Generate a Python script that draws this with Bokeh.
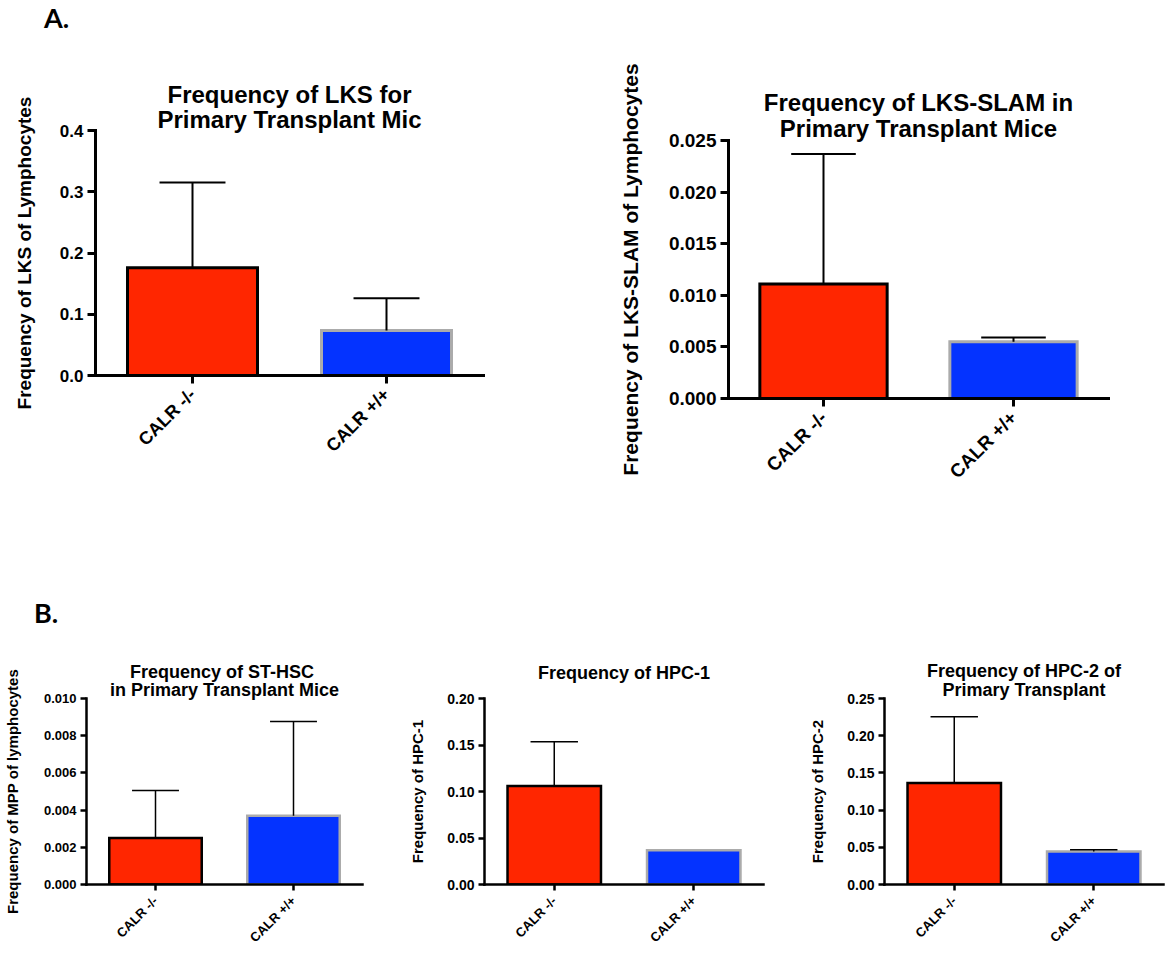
import math
from bokeh.plotting import figure
from bokeh.layouts import column, row
from bokeh.models import (Div, FixedTicker, Title, PrintfTickFormatter,
                          ColumnDataSource, Range1d, Spacer)
from bokeh.embed import file_html
from bokeh.resources import INLINE

# ---------------- data ----------------
groups = ["CALR -/-", "CALR +/+"]
bar_colors = ["#FF2600", "#0433FF"]
edge_colors = ["#000000", "#ABABAB"]

lks_title = ["Frequency of LKS for", "Primary Transplant Mic"]
lks_ylabel = "Frequency of LKS of Lymphocytes"
lks_mean = [0.176, 0.0735]
lks_sem = [0.139, 0.0525]
lks_yticks = [0.0, 0.1, 0.2, 0.3, 0.4]

slam_title = ["Frequency of LKS-SLAM in", "Primary Transplant Mice"]
slam_ylabel = "Frequency of LKS-SLAM of Lymphocytes"
slam_mean = [0.0111, 0.0055]
slam_sem = [0.0126, 0.0004]
slam_yticks = [0.000, 0.005, 0.010, 0.015, 0.020, 0.025]

sthsc_title = ["Frequency of  ST-HSC", "in Primary Transplant Mice"]
sthsc_ylabel = "Frequency of MPP of lymphocytes"
sthsc_mean = [0.0025, 0.0037]
sthsc_sem = [0.00256, 0.00506]
sthsc_yticks = [0.000, 0.002, 0.004, 0.006, 0.008, 0.010]

hpc1_title = ["Frequency of HPC-1"]
hpc1_ylabel = "Frequency of HPC-1"
hpc1_mean = [0.106, 0.0367]
hpc1_sem = [0.0476, 0.0]
hpc1_yticks = [0.00, 0.05, 0.10, 0.15, 0.20]

hpc2_title = ["Frequency of HPC-2 of", "Primary Transplant"]
hpc2_ylabel = "Frequency of HPC-2"
hpc2_mean = [0.1364, 0.0445]
hpc2_sem = [0.089, 0.0023]
hpc2_yticks = [0.00, 0.05, 0.10, 0.15, 0.20, 0.25]

FONT = "Liberation Sans"


def make_panel(title_lines, ylabel, means, sems, yticks, fmt,
               width, height, bl, br, bt, bb,
               title_size, title_standoffs, ylab_size, tick_size, xlab_size,
               ylab_standoff, lw, ew, tick_len):
    ymin, ymax = yticks[0], yticks[-1]
    p = figure(width=width, height=height,
               x_range=Range1d(0.5, 2.5), y_range=Range1d(ymin, ymax),
               output_backend="svg", toolbar_location=None,
               min_border_left=bl, min_border_right=br,
               min_border_top=bt, min_border_bottom=bb)
    p.outline_line_color = None
    p.grid.visible = False
    p.background_fill_color = "white"
    p.border_fill_color = "white"

    # first line is the main title (outermost); further lines sit below it
    p.title.text = title_lines[0]
    p.title.align = "center"
    p.title.text_font = FONT
    p.title.text_font_style = "bold"
    p.title.text_font_size = f"{title_size}px"
    p.title.text_color = "black"
    p.title.standoff = title_standoffs[0]
    for line, off in zip(title_lines[1:], title_standoffs[1:]):
        p.add_layout(Title(text=line, align="center", text_font=FONT,
                           text_font_style="bold", text_font_size=f"{title_size}px",
                           text_color="black", standoff=off), "above")

    xs = [i + 1 for i in range(len(groups))]
    src = ColumnDataSource(dict(x=xs, top=means, fill=bar_colors, edge=edge_colors))
    p.vbar(x="x", top="top", bottom=0, width=0.67, fill_color="fill",
           line_color="edge", line_width=lw, line_join="miter", source=src)

    ex = [xs[i] for i in range(len(xs)) if sems[i] > 0]
    ey0 = [means[i] for i in range(len(xs)) if sems[i] > 0]
    ey1 = [means[i] + sems[i] for i in range(len(xs)) if sems[i] > 0]
    if ex:
        p.segment(x0=ex, y0=ey0, x1=ex, y1=ey1, line_color="black", line_width=ew)
        p.segment(x0=[x - 0.17 for x in ex], y0=ey1, x1=[x + 0.17 for x in ex], y1=ey1,
                  line_color="black", line_width=ew)

    # axes
    xa = p.xaxis[0]
    xa.ticker = FixedTicker(ticks=xs)
    xa.major_label_overrides = {xs[i]: groups[i] for i in range(len(xs))}
    xa.major_label_orientation = math.pi / 4
    xa.major_label_text_font = FONT
    xa.major_label_text_font_style = "bold"
    xa.major_label_text_font_size = f"{xlab_size}px"
    xa.major_label_text_color = "black"
    xa.major_label_standoff = 8

    ya = p.yaxis[0]
    ya.ticker = FixedTicker(ticks=yticks)
    ya.formatter = PrintfTickFormatter(format=fmt)
    ya.major_label_text_font = FONT
    ya.major_label_text_font_style = "bold"
    ya.major_label_text_font_size = f"{tick_size}px"
    ya.major_label_text_color = "black"
    ya.major_label_standoff = 4
    ya.axis_label = ylabel
    ya.axis_label_text_font = FONT
    ya.axis_label_text_font_style = "bold"
    ya.axis_label_text_font_size = f"{ylab_size}px"
    ya.axis_label_text_color = "black"
    ya.axis_label_standoff = ylab_standoff

    for ax in (xa, ya):
        ax.axis_line_width = lw
        ax.axis_line_color = "black"
        ax.major_tick_line_width = lw
        ax.major_tick_line_color = "black"
        ax.major_tick_out = tick_len
        ax.major_tick_in = 0
        ax.minor_tick_out = 0
        ax.minor_tick_in = 0
        ax.axis_line_cap = "square"
    return p


# top row: equal borders, vertical shift of panel 2 by a spacer
p1 = make_panel(lks_title, lks_ylabel, lks_mean, lks_sem, lks_yticks, "%.1f",
                width=600, height=80 + 245 + 187, bl=95, br=117, bt=80, bb=187,
                title_size=24, title_standoffs=[-4, -4], ylab_size=19, tick_size=17,
                xlab_size=18, ylab_standoff=22, lw=3, ew=2, tick_len=8)
p2 = make_panel(slam_title, slam_ylabel, slam_mean, slam_sem, slam_yticks, "%.3f",
                width=565, height=80 + 258 + 187, bl=128, br=57, bt=80, bb=187,
                title_size=24, title_standoffs=[-3, -3], ylab_size=21, tick_size=19,
                xlab_size=19, ylab_standoff=24, lw=3, ew=2, tick_len=8)
p3 = make_panel(sthsc_title, sthsc_ylabel, sthsc_mean, sthsc_sem, sthsc_yticks, "%.3f",
                width=385, height=339, bl=85, br=23, bt=63, bb=90,
                title_size=18, title_standoffs=[-4, -3], ylab_size=15, tick_size=13,
                xlab_size=13, ylab_standoff=20, lw=2.5, ew=1.5, tick_len=6)
p4 = make_panel(hpc1_title, hpc1_ylabel, hpc1_mean, hpc1_sem, hpc1_yticks, "%.2f",
                width=395, height=339, bl=99, br=17, bt=63, bb=90,
                title_size=18, title_standoffs=[31], ylab_size=15, tick_size=14,
                xlab_size=13, ylab_standoff=18, lw=2.5, ew=1.5, tick_len=6)
p5 = make_panel(hpc2_title, hpc2_ylabel, hpc2_mean, hpc2_sem, hpc2_yticks, "%.2f",
                width=385, height=339, bl=104, br=2, bt=63, bb=90,
                title_size=18, title_standoffs=[-5, -2], ylab_size=15, tick_size=14,
                xlab_size=13, ylab_standoff=18, lw=2.5, ew=1.5, tick_len=6)

div_a = Div(text='<div style="padding:3px 0 0 44px;font:bold 27px Lato,sans-serif;line-height:1.1;color:black">A.</div>',
            width=1165, height=50, margin=(0, 0, 0, 0))
div_b = Div(text='<div style="padding:13px 0 0 34px;font:bold 27px Lato,sans-serif;line-height:1.1;color:black">B.</div>',
            width=1165, height=50, margin=(0, 0, 0, 0))

top_row = row(column(p1, Spacer(width=600, height=23)),
              column(Spacer(width=565, height=10), p2))
layout = column(div_a, top_row, div_b, row(p3, p4, p5))

open("out.html", "w").write(file_html(layout, INLINE))
